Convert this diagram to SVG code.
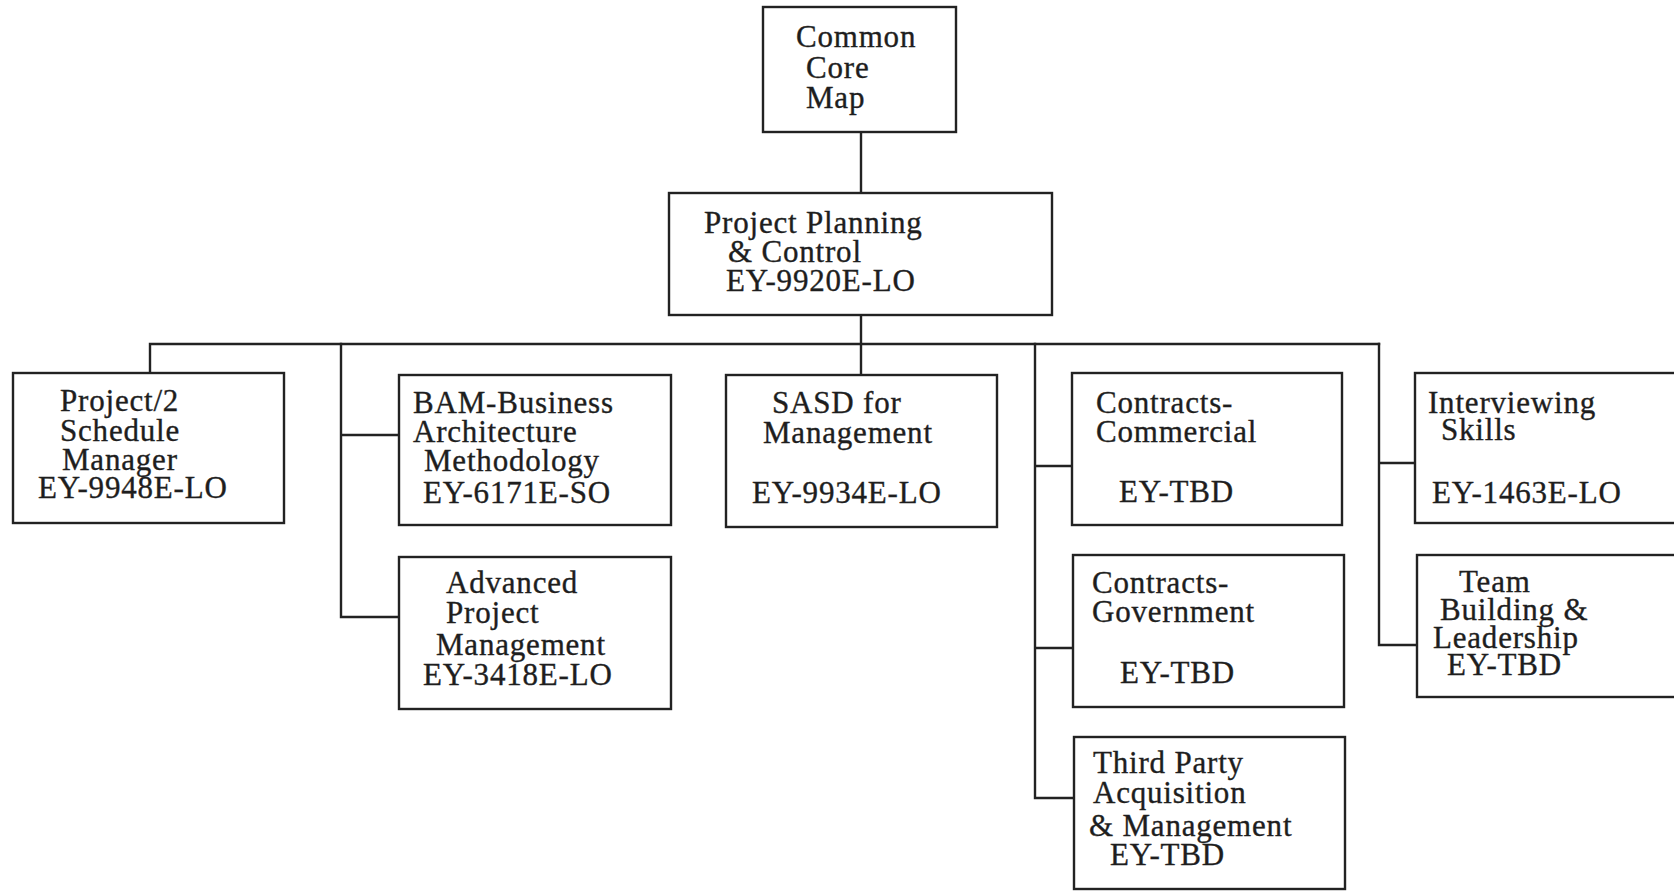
<svg xmlns="http://www.w3.org/2000/svg" width="1674" height="891" viewBox="0 0 1674 891">
  <style>
    .box { fill: #ffffff; stroke: #222222; stroke-width: 2.4; }
    .wire { fill: none; stroke: #222222; stroke-width: 2.4; stroke-linecap: square; }
    text { font-family: "Liberation Serif", "Times New Roman", serif; font-size: 31px; fill: #1e1e1e; stroke: #1e1e1e; stroke-width: 0.35; letter-spacing: 0.8px; }
  </style>
  <rect width="1674" height="891" fill="#ffffff"/>

  <!-- connectors -->
  <g id="connectors">
    <path class="wire" d="M861,132 V193"/>
    <path class="wire" d="M861,315 V375"/>
    <path class="wire" d="M150,373 V344 H1379"/>
    <path class="wire" d="M341,344 V617 H399 M341,435 H399"/>
    <path class="wire" d="M1035,344 V798 H1074 M1035,466 H1072 M1035,648 H1073"/>
    <path class="wire" d="M1379,344 V645 H1417 M1379,463 H1415"/>
  </g>

  <g id="common-core">
    <rect class="box" x="763" y="7" width="193" height="125"/>
    <text x="796" y="47">Common</text>
    <text x="806" y="78">Core</text>
    <text x="806" y="108">Map</text>
  </g>

  <g id="project-planning">
    <rect class="box" x="669" y="193" width="383" height="122"/>
    <text x="704" y="233">Project Planning</text>
    <text x="728" y="262">&amp; Control</text>
    <text x="726" y="291">EY-9920E-LO</text>
  </g>

  <g id="project2">
    <rect class="box" x="13" y="373" width="271" height="150"/>
    <text x="60" y="411">Project/2</text>
    <text x="60" y="441">Schedule</text>
    <text x="62" y="470">Manager</text>
    <text x="38" y="498">EY-9948E-LO</text>
  </g>

  <g id="bam">
    <rect class="box" x="399" y="375" width="272" height="150"/>
    <text x="413" y="413">BAM-Business</text>
    <text x="413" y="442">Architecture</text>
    <text x="424" y="471">Methodology</text>
    <text x="423" y="503">EY-6171E-SO</text>
  </g>

  <g id="advanced-pm">
    <rect class="box" x="399" y="557" width="272" height="152"/>
    <text x="446" y="593">Advanced</text>
    <text x="446" y="623">Project</text>
    <text x="436" y="655">Management</text>
    <text x="423" y="685">EY-3418E-LO</text>
  </g>

  <g id="sasd">
    <rect class="box" x="726" y="375" width="271" height="152"/>
    <text x="772" y="413">SASD for</text>
    <text x="763" y="443">Management</text>
    <text x="752" y="503">EY-9934E-LO</text>
  </g>

  <g id="contracts-commercial">
    <rect class="box" x="1072" y="373" width="270" height="152"/>
    <text x="1096" y="413">Contracts-</text>
    <text x="1096" y="442">Commercial</text>
    <text x="1119" y="502">EY-TBD</text>
  </g>

  <g id="contracts-government">
    <rect class="box" x="1073" y="555" width="271" height="152"/>
    <text x="1092" y="593">Contracts-</text>
    <text x="1092" y="622">Government</text>
    <text x="1120" y="683">EY-TBD</text>
  </g>

  <g id="third-party">
    <rect class="box" x="1074" y="737" width="271" height="152"/>
    <text x="1093" y="773">Third Party</text>
    <text x="1093" y="803">Acquisition</text>
    <text x="1089" y="836">&amp; Management</text>
    <text x="1110" y="865">EY-TBD</text>
  </g>

  <g id="interviewing">
    <rect class="box" x="1415" y="373" width="280" height="150"/>
    <text x="1428" y="413">Interviewing</text>
    <text x="1441" y="440">Skills</text>
    <text x="1432" y="503">EY-1463E-LO</text>
  </g>

  <g id="team-building">
    <rect class="box" x="1417" y="555" width="280" height="142"/>
    <text x="1459" y="592">Team</text>
    <text x="1440" y="620">Building &amp;</text>
    <text x="1433" y="648">Leadership</text>
    <text x="1447" y="675">EY-TBD</text>
  </g>
</svg>
